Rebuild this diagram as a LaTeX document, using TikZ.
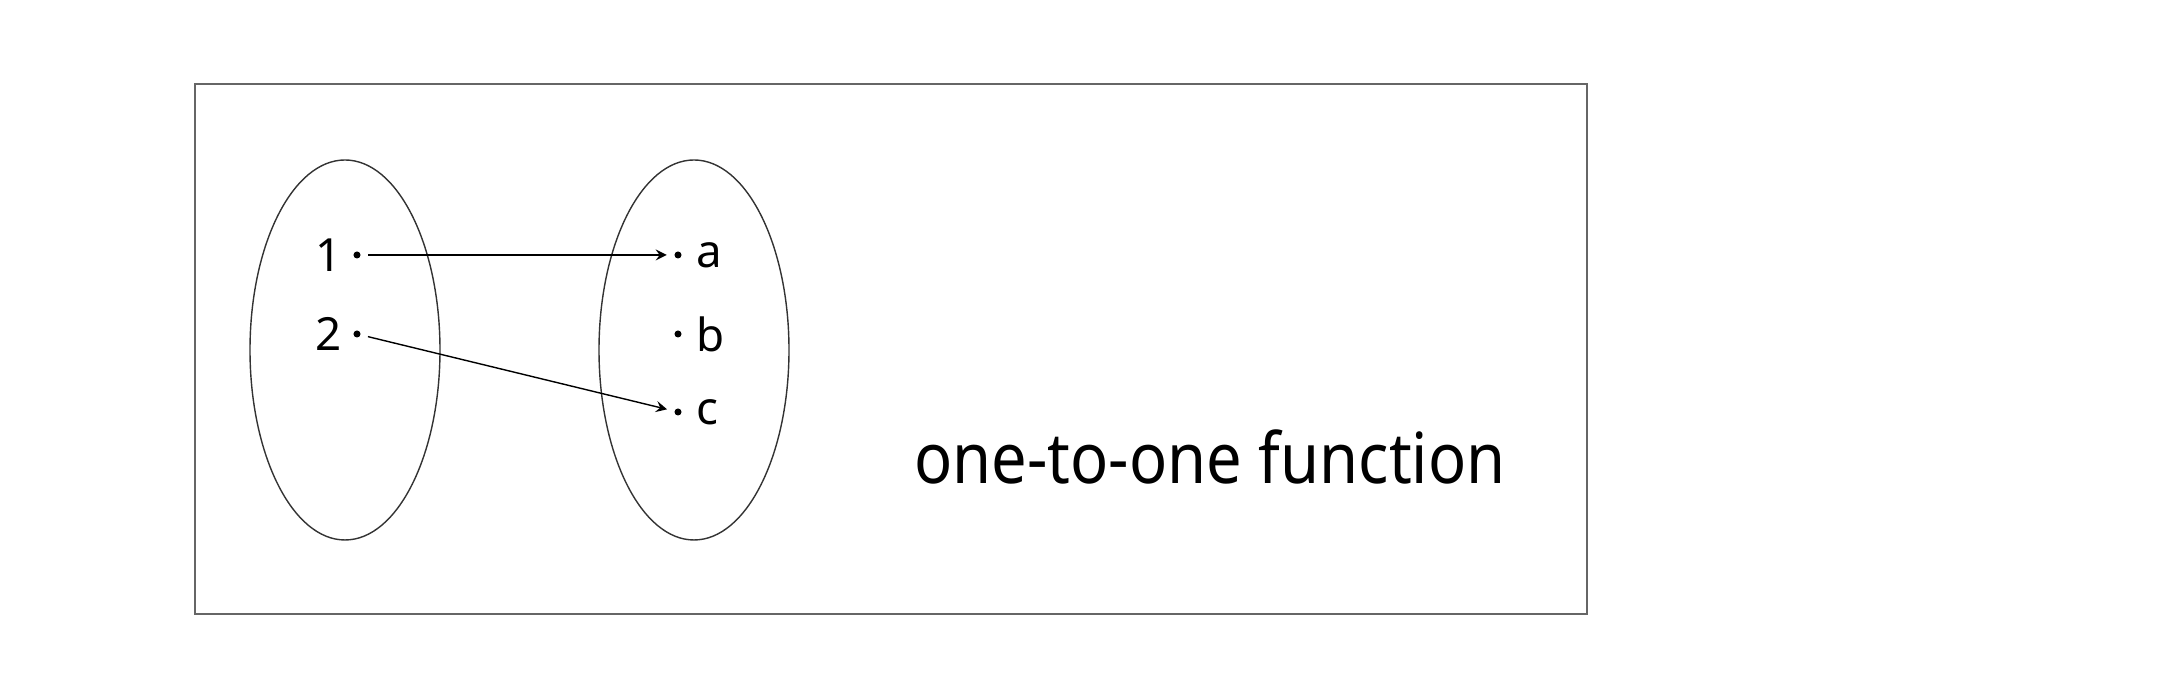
\documentclass[tikz,border=0pt]{standalone}
\usepackage{fontspec}
\setmainfont{Noto Sans}
\newfontfamily\titlefont{Noto Sans}[FakeStretch=0.9]
\usetikzlibrary{graphs}

\begin{document}
\begin{tikzpicture}[
    dot/.style={circle,fill=black,inner sep=0pt,minimum size=2pt},
    elt/.style={font=\fontsize{13}{15}\selectfont,inner sep=1pt},
    >=stealth
  ]
      \useasboundingbox (0,0) rectangle (21.7,6.94);
      \draw[gray!80!black,line width=0.5pt] (1.95,0.80) rectangle (15.87,6.10);

      % the two sets
      \draw[black!80,line width=0.4pt] (3.45,3.44) ellipse (0.95 and 1.90);
      \draw[black!80,line width=0.4pt] (6.94,3.44) ellipse (0.95 and 1.90);

      \node[dot,label={[elt,label distance=2pt]left:1}] (1) at (3.57,4.39) {};
      \node[dot,label={[elt,label distance=2pt]left:2}] (2) at (3.57,3.60) {};
      \node[dot,label={[elt,label distance=3pt]right:a}] (a) at (6.78,4.39) {};
      \node[dot,label={[elt,label distance=3pt]right:b}] (b) at (6.78,3.60) {};
      \node[dot,label={[elt,label distance=3pt]right:c}] (c) at (6.78,2.82) {};

      \node[font=\titlefont\fontsize{20}{24}\selectfont,anchor=base] (title) at (12.10,2.10) {one-to-one function};

      \graph[edges={line width=0.4pt,shorten <=2pt,shorten >=2pt}]{
        (1) -> (a);
        (2) -> (c)
      };
    \end{tikzpicture}
\end{document}
